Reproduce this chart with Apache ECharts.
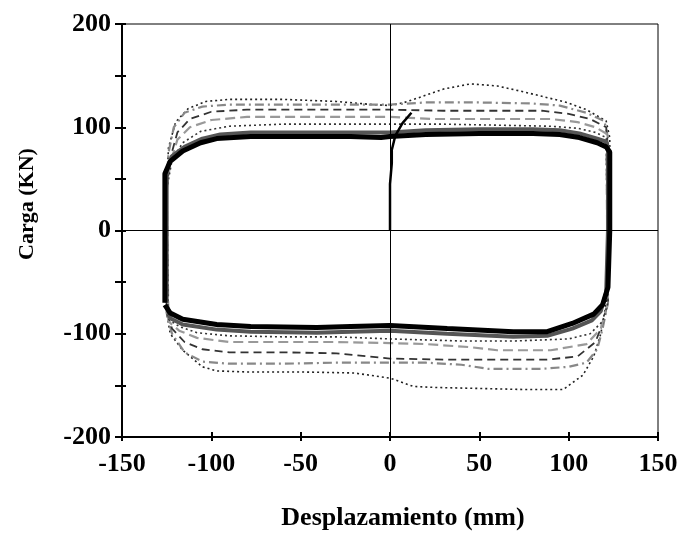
<!DOCTYPE html>
<html>
<head>
<meta charset="utf-8">
<script src="https://cdn.jsdelivr.net/npm/echarts@6/dist/echarts.min.js"></script>
<style>html,body{margin:0;padding:0;background:#fff;}#c{width:681px;height:533px;}</style>
</head>
<body>
<div id="c"></div>
<script>
// Axis ranges and labelled ticks
const xRange = [-150, 150];
const yRange = [-200, 200];
const xStep = 50;
const yStep = 50;
const yLabelValues = [-200, -100, 0, 100, 200];

// Main (stabilised) hysteresis loop: [displacement mm, load kN]
const mainLoop = [[-126,-70],[-126,0],[-126,55],[-123,67],[-116,77],[-106,85],[-97,89],[-78,91],[-50,91],[-22,91],[-5,90],[0,91],[20,93],[50,94],[80,94],[95,93],[106,90],[116,85],[121,81],[123,76],[123,0],[122,-55],[119,-72],[114,-81],[102,-90],[88,-98],[69,-98],[32,-95],[0,-92],[-22,-93],[-41,-94],[-78,-93],[-97,-91],[-116,-86],[-123,-80],[-126,-72]];
const mainShade = [[-125,-70],[-125,58],[-122,72],[-115,81],[-105,89],[-95,93],[-78,95],[-50,95],[-22,95],[0,95],[20,97],[50,98],[80,98],[95,97],[106,94],[116,89],[121,86],[122,80],[122,0],[121,-60],[118,-78],[113,-87],[102,-95],[88,-102],[69,-103],[32,-100],[0,-97],[-22,-98],[-41,-99],[-78,-98],[-97,-96],[-116,-91],[-123,-85],[-125,-72]];
// Initial loading branch
const initBranch = [[0,0],[0,20],[0,45],[1,65],[1,78],[3,92],[7,104],[12,114]];
// Earlier, larger cycles
const loop1 = [[-125,40],[-124,80],[-120,105],[-113,118],[-103,125],[-90,127],[-60,127],[-30,125],[-10,122],[0,121],[8,124],[15,128],[30,137],[45,142],[60,140],[73,135],[85,130],[99,124],[110,117],[121,106],[123,90],[123,0],[121,-70],[118,-100],[114,-122],[108,-140],[97,-154],[75,-154],[50,-153],[25,-152],[13,-151],[5,-146],[0,-143],[-20,-138],[-50,-137],[-80,-137],[-97,-136],[-105,-132],[-116,-116],[-123,-100],[-125,-80],[-125,40]];
const loop2 = [[-125,40],[-124,75],[-121,100],[-115,114],[-105,120],[-90,122],[-60,122],[-30,122],[0,122],[20,124],[50,124],[80,123],[95,121],[110,114],[120,106],[122,90],[122,-70],[119,-95],[116,-115],[110,-128],[100,-132],[85,-134],[55,-134],[40,-130],[20,-128],[0,-128],[-30,-128],[-60,-129],[-90,-129],[-105,-127],[-115,-118],[-122,-100],[-125,-80],[-125,40]];
const loop3 = [[-125,40],[-123,70],[-119,95],[-112,108],[-100,115],[-80,117],[-50,117],[-20,117],[0,117],[30,116],[60,116],[85,116],[100,113],[112,108],[121,100],[122,80],[122,-70],[119,-90],[115,-108],[105,-122],[88,-125],[60,-125],[30,-125],[0,-124],[-30,-119],[-60,-118],[-90,-118],[-105,-115],[-115,-108],[-122,-95],[-125,-80],[-125,40]];
const loop4 = [[-125,40],[-123,65],[-119,88],[-112,100],[-100,107],[-80,110],[-50,110],[-20,110],[0,110],[25,108],[60,108],[90,108],[105,105],[115,100],[121,94],[122,-70],[118,-95],[110,-110],[90,-116],[60,-116],[45,-113],[20,-110],[0,-109],[-30,-108],[-60,-108],[-90,-108],[-108,-104],[-118,-97],[-124,-88],[-125,40]];
const loop5 = [[-125,40],[-122,68],[-116,85],[-106,96],[-90,101],[-60,103],[-30,103],[0,103],[30,103],[60,102],[90,101],[105,99],[115,95],[121,90],[122,-70],[119,-88],[112,-100],[100,-105],[70,-107],[40,-107],[0,-105],[-30,-103],[-60,-103],[-90,-102],[-108,-99],[-118,-93],[-124,-86],[-125,40]];

const chart = echarts.init(document.getElementById('c'), null, {renderer: 'canvas'});
const FONT = 'Liberation Serif';
const labelStyle = {fontFamily: FONT, fontWeight: 'bold', fontSize: 26, color: '#000'};

function loopSeries(name, data, color, width, type) {
  return {
    name: name, type: 'line', data: data, showSymbol: false, symbol: 'none',
    silent: true, animation: false,
    lineStyle: {color: color, width: width, type: type}
  };
}

const option = {
  animation: false,
  backgroundColor: '#fff',
  grid: {left: 122, right: 23, top: 24, bottom: 96, show: true, borderColor: '#000', borderWidth: 1, backgroundColor: 'transparent'},
  xAxis: [{
    type: 'value', min: xRange[0], max: xRange[1], interval: xStep, position: 'bottom',
    axisLine: {onZero: false, lineStyle: {color: '#000', width: 2}},
    axisTick: {inside: true, length: 5, lineStyle: {color: '#000', width: 2}},
    axisLabel: Object.assign({margin: 14}, labelStyle),
    splitLine: {show: false}
  }, {
    type: 'value', min: xRange[0], max: xRange[1], interval: xStep, position: 'bottom',
    axisLine: {show: false, onZero: false},
    axisTick: {inside: false, length: 4, lineStyle: {color: '#000', width: 2}},
    axisLabel: {show: false}, splitLine: {show: false}
  }],
  yAxis: [{
    type: 'value', min: yRange[0], max: yRange[1], interval: yStep, position: 'left',
    axisLine: {onZero: false, lineStyle: {color: '#000', width: 2}},
    axisTick: {inside: false, length: 7, lineStyle: {color: '#000', width: 2}},
    axisLabel: Object.assign({margin: 11, formatter: function (v) { return yLabelValues.indexOf(v) >= 0 ? String(v) : ''; }}, labelStyle),
    splitLine: {show: false}
  }, {
    type: 'value', min: yRange[0], max: yRange[1], interval: yStep, position: 'left',
    axisLine: {show: false, onZero: false},
    axisTick: {inside: true, length: 4, lineStyle: {color: '#000', width: 2}},
    axisLabel: {show: false}, splitLine: {show: false}
  }],
  graphic: [{
    type: 'text', x: 27, y: 204, rotation: Math.PI / 2,
    style: {text: 'Carga (KN)', x: 0, y: 0, align: 'center', verticalAlign: 'middle', font: 'bold 22px "Liberation Serif"', fill: '#000'}
  }, {
    type: 'text', x: 403, y: 518,
    style: {text: 'Desplazamiento (mm)', x: 0, y: 0, align: 'center', verticalAlign: 'middle', font: 'bold 26px "Liberation Serif"', fill: '#000'}
  }],
  series: [
    loopSeries('Ciclo 1', loop1, '#222', 1.6, [2, 3]),
    loopSeries('Ciclo 2', loop2, '#888', 2.2, [9, 4, 2, 4]),
    loopSeries('Ciclo 3', loop3, '#333', 1.8, [8, 5]),
    loopSeries('Ciclo 4', loop4, '#999', 2.2, [10, 5]),
    loopSeries('Ciclo 5', loop5, '#333', 1.6, [2, 3]),
    loopSeries('Sombra', mainShade, '#555', 4, 'solid'),
    loopSeries('Ciclo estable', mainLoop, '#000', 5, 'solid'),
    Object.assign(loopSeries('Carga inicial', initBranch, '#000', 2.5, 'solid'), {
      markLine: {
        silent: true, symbol: 'none', animation: false,
        label: {show: false},
        lineStyle: {color: '#000', width: 1, type: 'solid'},
        data: [{xAxis: 0}, {yAxis: 0}]
      }
    })
  ]
};
chart.setOption(option);
</script>
</body>
</html>
